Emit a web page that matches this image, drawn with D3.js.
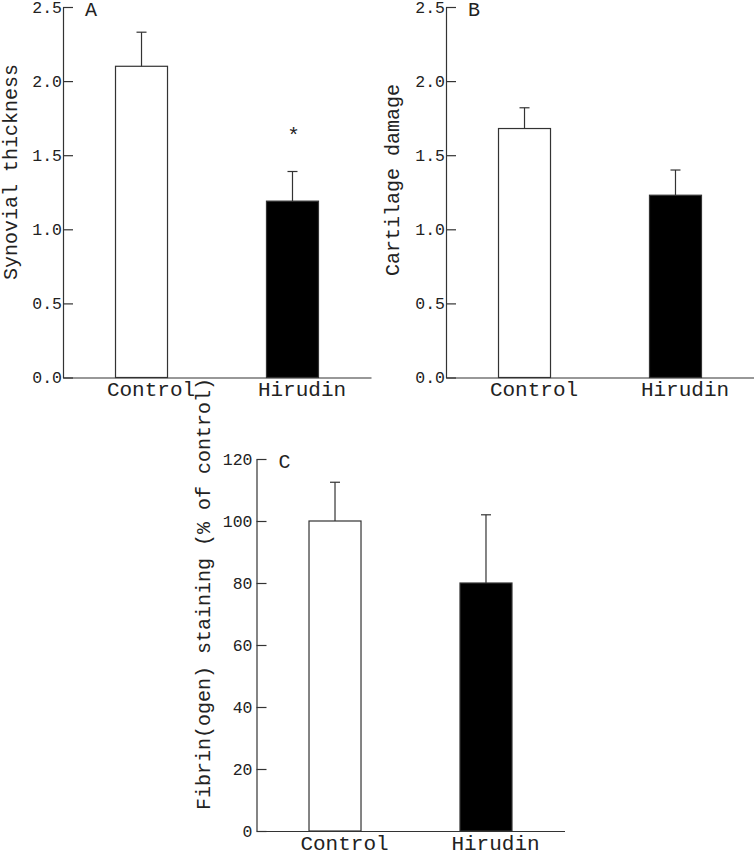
<!DOCTYPE html>
<html>
<head>
<meta charset="utf-8">
<script src="https://cdn.jsdelivr.net/npm/d3@7"></script>
<style>
  body { margin: 0; background: #fff; }
  svg { display: block; }
  text { font-family: "Liberation Mono", "Courier New", monospace; fill: #222; }
  .axis path, .axis line { stroke: #333; stroke-width: 1.2; }
</style>
</head>
<body>
<div id="chart"></div>
<script>

var groups = ["Control", "Hirudin"];
var groupFills = ["#ffffff", "#000000"];

// panel A
var synovialMean = [2.10, 1.19];
var synovialErr = [2.33, 1.39];
var synovialTicks = [0, 0.5, 1.0, 1.5, 2.0, 2.5];
var synovialStars = ["", "*"];

// panel B
var cartilageMean = [1.68, 1.23];
var cartilageErr = [1.82, 1.40];
var cartilageTicks = [0, 0.5, 1.0, 1.5, 2.0, 2.5];

// panel C
var fibrinMean = [100, 80];
var fibrinErr = [112.5, 102];
var fibrinTicks = [0, 20, 40, 60, 80, 100, 120];

var width = 754, height = 853;

var svg = d3.select("#chart").append("svg")
	.attr("width", width).attr("height", height);

function drawPanel(p) {

	var g = svg.append("g");

	var x = d3.scalePoint().domain(groups)
		.range([p.left, p.left + 308]).padding(0.52);
	var y = d3.scaleLinear().domain([0, p.max])
		.range([p.bottom, p.top]);

	var barW = 52;

	// bars
	g.selectAll("rect.bar")
		.data(groups)
		.enter().append("rect")
		.attr("class", "bar")
		.attr("x", function(d){ return x(d) - barW / 2; })
		.attr("y", function(d, i){ return y(p.mean[i]); })
		.attr("width", barW)
		.attr("height", function(d, i){ return y(0) - y(p.mean[i]); })
		.attr("fill", function(d, i){ return groupFills[i]; })
		.attr("stroke", "#333")
		.attr("stroke-width", 1.2);

	// error bars (upper only)
	g.selectAll("line.err")
		.data(groups)
		.enter().append("line")
		.attr("class", "err")
		.attr("x1", function(d){ return x(d); })
		.attr("x2", function(d){ return x(d); })
		.attr("y1", function(d, i){ return y(p.mean[i]); })
		.attr("y2", function(d, i){ return y(p.err[i]); })
		.attr("stroke", "#333").attr("stroke-width", 1.2);

	g.selectAll("line.cap")
		.data(groups)
		.enter().append("line")
		.attr("class", "cap")
		.attr("x1", function(d){ return x(d) - 5; })
		.attr("x2", function(d){ return x(d) + 5; })
		.attr("y1", function(d, i){ return y(p.err[i]); })
		.attr("y2", function(d, i){ return y(p.err[i]); })
		.attr("stroke", "#333").attr("stroke-width", 1.2);

	if (p.stars) {
		g.selectAll("text.star")
			.data(groups)
			.enter().append("text")
			.attr("class", "star")
			.attr("x", function(d){ return x(d) + 1; })
			.attr("y", function(d, i){ return y(p.err[i]) - 30; })
			.attr("text-anchor", "middle")
			.style("font-size", "21px")
			.text(function(d, i){ return p.stars[i]; });
	}

	// y axis, ticks pointing inward
	var yAxis = d3.axisLeft(y)
		.tickValues(p.ticks)
		.tickSizeInner(-10)
		.tickSizeOuter(0)
		.tickPadding(p.tickPad)
		.tickFormat(p.fmt);

	g.append("g")
		.attr("class", "y axis")
		.attr("transform", "translate(" + p.left + ",0)")
		.call(yAxis)
		.call(function(a){ a.selectAll("text").style("font-size", "16.5px").attr("fill", "#222"); });

	// x axis
	g.append("g")
		.attr("class", "x axis")
		.attr("transform", "translate(0," + p.bottom + ")")
		.call(d3.axisBottom(x).tickSize(0).tickPadding(4))
		.call(function(a){
			a.selectAll("text").style("font-size", "21px").attr("dx", 9).attr("fill", "#222");
		});

	// panel letter
	g.append("text")
		.attr("x", p.left + 22)
		.attr("y", p.top + 9)
		.style("font-size", "20px")
		.text(p.letter);

	// y title
	g.append("text")
		.attr("transform", "translate(" + p.titleX + "," + p.titleY + ") rotate(-90)")
		.attr("text-anchor", "middle")
		.attr("dy", "0.3em")
		.style("font-size", "20px")
		.text(p.title);
}

drawPanel({
	left: 63, top: 7, bottom: 377.5, max: 2.5,
	mean: synovialMean, err: synovialErr, ticks: synovialTicks,
	stars: synovialStars, fmt: d3.format(".1f"), tickPad: 1,
	letter: "A", title: "Synovial thickness", titleX: 11, titleY: 172
});

drawPanel({
	left: 446, top: 7, bottom: 377.5, max: 2.5,
	mean: cartilageMean, err: cartilageErr, ticks: cartilageTicks,
	fmt: d3.format(".1f"), tickPad: 1,
	letter: "B", title: "Cartilage damage", titleX: 393, titleY: 180
});

drawPanel({
	left: 256.5, top: 459, bottom: 831, max: 120,
	mean: fibrinMean, err: fibrinErr, ticks: fibrinTicks,
	fmt: d3.format("d"), tickPad: 4,
	letter: "C", title: "Fibrin(ogen) staining (% of control)", titleX: 204, titleY: 594
});

</script>
</body>
</html>
